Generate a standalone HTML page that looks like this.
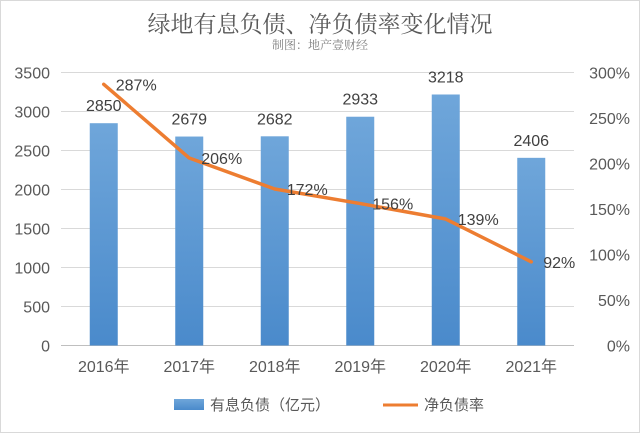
<!DOCTYPE html>
<html><head><meta charset="utf-8"><style>
body{margin:0;background:#fff;}
svg text{font-family:"Liberation Sans","Noto Sans CJK SC",sans-serif;}
svg text.serif{font-family:"Liberation Serif","Noto Serif CJK SC",serif;}
</style></head><body>
<svg id="c" width="640" height="433" viewBox="0 0 640 433">
<defs><linearGradient id="bg" x1="0" y1="0" x2="0" y2="1"><stop offset="0" stop-color="#6fa6da"/><stop offset="1" stop-color="#4a8acb"/></linearGradient></defs>
<rect x="0.5" y="0.5" width="639" height="432" fill="#fff" stroke="#d9d9d9"/>
<text class="serif" x="320" y="32" text-anchor="middle" font-size="23" fill="#595959">绿地有息负债、净负债率变化情况</text>
<text class="serif" x="320" y="49" text-anchor="middle" font-size="12" fill="#7f7f7f">制图：地产壹财经</text>
<g id="g"></g>
<g>
<rect x="174" y="399" width="30" height="11" fill="url(#bg)"/>
<text x="210" y="410" font-size="15" fill="#595959">有息负债（亿元）</text>
<line x1="383" y1="405" x2="418" y2="405" stroke="#ed7d31" stroke-width="3"/>
<text x="424" y="410" font-size="15" fill="#595959">净负债率</text>
</g>
</svg>
<script>
const categories=["2016年","2017年","2018年","2019年","2020年","2021年"];
const debtValues=[2850,2679,2682,2933,3218,2406];
const ratioValues=[287,206,172,156,139,92];
const leftTicks=[0,500,1000,1500,2000,2500,3000,3500];
const rightTicks=[0,50,100,150,200,250,300];
const NS="http://www.w3.org/2000/svg";
const g=document.getElementById('g');
const X0=61,X1=574,Y0=345.5,Y1=72.5;
const bw=(X1-X0)/categories.length;
const xc=i=>X0+bw*(i+0.5);
const yL=v=>Y0-(v/3500)*(Y0-Y1);
const yR=v=>Y0-(v/300)*(Y0-Y1);
function mk(t,a){const e=document.createElementNS(NS,t);for(const k in a)e.setAttribute(k,a[k]);g.appendChild(e);return e;}
leftTicks.forEach(v=>{
 const l=mk('line',{x1:X0,x2:X1,y1:yL(v),y2:yL(v),stroke:v===0?'#bfbfbf':'#d9d9d9'});
 
 
 const t=mk('text',{x:50,y:yL(v)+6,'text-anchor':'end','font-size':16,fill:'#595959'});
 t.textContent=v;
 
 
});
rightTicks.forEach(v=>{
 const t=mk('text',{x:630,y:yR(v)+6,'text-anchor':'end','font-size':16,fill:'#595959'});
 t.textContent=v+'%';
 
 
});
categories.forEach((c,i)=>{
 const t=mk('text',{x:xc(i),y:372,'text-anchor':'middle','font-size':16,fill:'#595959'});
 t.textContent=c;
 
 
});
debtValues.forEach((v,i)=>{
 const r=mk('rect',{x:xc(i)-14,y:yL(v),width:28,height:Y0-yL(v),fill:'url(#bg)'});
 
 
 const t=mk('text',{x:xc(i),y:yL(v)-12,'text-anchor':'middle','font-size':16,fill:'#404040'});
 t.textContent=v;
 
 
});
const p=mk('polyline',{points:ratioValues.map((v,i)=>xc(i)+','+yR(v)).join(' '),fill:'none',stroke:'#ed7d31','stroke-width':3.5,'stroke-linejoin':'round','stroke-linecap':'round'});


ratioValues.forEach((v,i)=>{
 const t=mk('text',{x:xc(i)+12,y:yR(v)+6,'font-size':16,fill:'#404040'});
 t.textContent=v+'%';
 
 
});
</script>
</body></html>
